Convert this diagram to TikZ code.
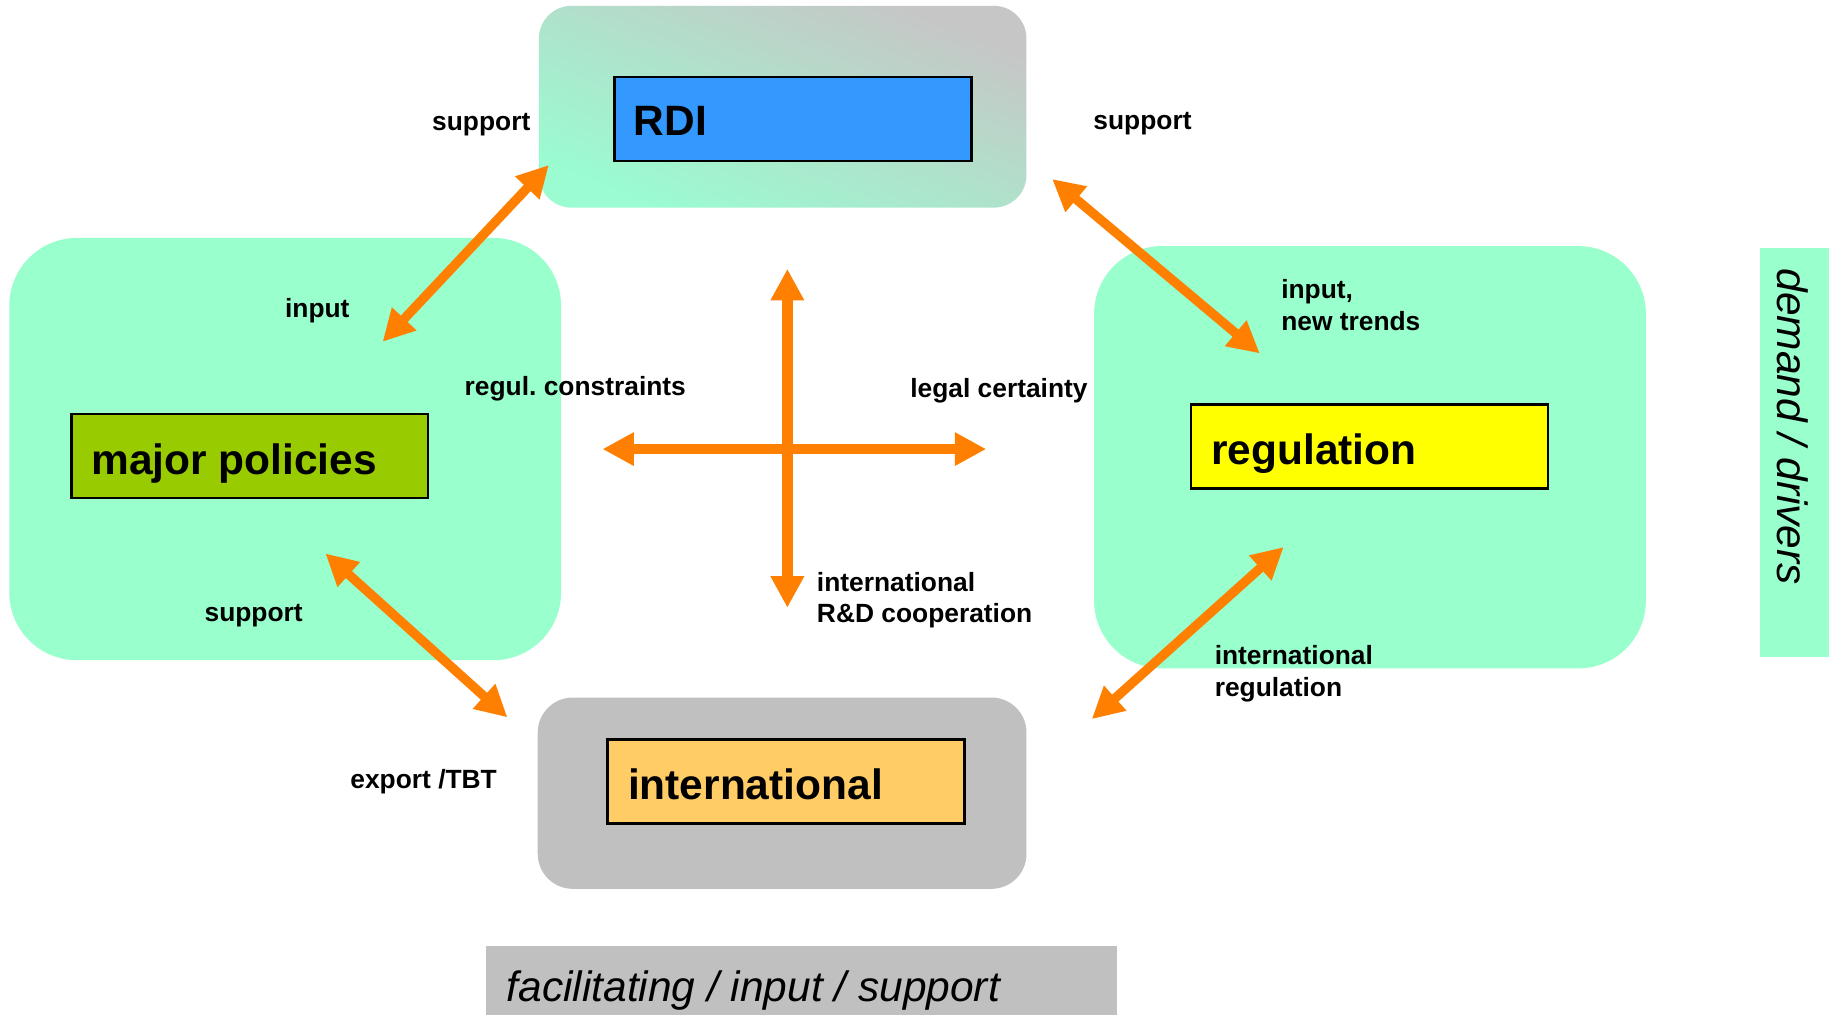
\documentclass[tikz,border=0pt]{standalone}
\usepackage{fontspec}
\setmainfont{Liberation Sans}
\usetikzlibrary{arrows.meta}
\definecolor{mint}{HTML}{99FFCC}
\definecolor{mintg}{HTML}{9AFCD0}
\definecolor{grayg}{HTML}{C6C6C6}
\definecolor{gry}{HTML}{C0C0C0}
\definecolor{rdiblue}{HTML}{3399FF}
\definecolor{polgreen}{HTML}{99CC00}
\definecolor{regyellow}{HTML}{FFFF00}
\definecolor{intorange}{HTML}{FFCC66}
\definecolor{arr}{HTML}{FF8000}
\frenchspacing
\begin{document}
\begin{tikzpicture}[x=0.5pt,y=-0.5pt,
  outerbox/.style={rectangle, inner sep=0pt, draw=none},
  innerbox/.style={rectangle, inner sep=0pt, draw=black, line width=1.2pt, minimum width=153pt, minimum height=36pt},
  bigtext/.style={inner sep=0pt, anchor=base west, font=\fontsize{18.2}{21}\selectfont\bfseries},
  lbl/.style={inner sep=0pt, anchor=base west, align=left, font=\fontsize{11.3}{13.5}\selectfont\bfseries},
  tipshape/.tip={Triangle[length=13.5pt,width=13.5pt]},
  dblarrow/.style={draw=arr, line width=4pt, tipshape-tipshape},
  crossarrow/.style={draw=arr, line width=4.5pt, tipshape-tipshape}]
\clip (0,0) rectangle (1568,870);
\fill[white] (0,0) rectangle (1568,870);
% outer panels
\node[outerbox, rounded corners=14pt, minimum width=209pt, minimum height=86.5pt,
  bottom color=mintg, top color=grayg, shading angle=-22.5] (rdiout) at (671,91.5) {};
\node[outerbox, fill=mint, rounded corners=29pt, minimum width=236.5pt, minimum height=181pt] (polout) at (244.5,385) {};
\node[outerbox, fill=mint, rounded corners=29pt, minimum width=236.5pt, minimum height=181pt] (regout) at (1174.5,392) {};
\node[outerbox, fill=gry, rounded corners=15pt, minimum width=209.5pt, minimum height=82pt] (intout) at (670.5,680) {};
\node[outerbox, fill=mint, minimum width=40pt, minimum height=175pt] (demand) at (1549,388) {};
\node[outerbox, fill=gry, minimum width=270.5pt, minimum height=40pt] (facil) at (687.5,851) {};
% inner boxes
\node[innerbox, fill=rdiblue] (rdi) at (680,102) {};
\node[innerbox, fill=polgreen] (pol) at (214,391) {};
\node[innerbox, fill=regyellow] (reg) at (1174,383) {};
\node[innerbox, fill=intorange] (int) at (674,670) {};
\node[bigtext] (rdit) at (543,116.5) {RDI};
\node[bigtext] (polt) at (78,406.5) {major policies};
\node[bigtext] (regt) at (1038,398.5) {regulation};
\node[bigtext] (intt) at (538,685.5) {international};
\node[inner sep=0pt, anchor=west, rotate=-90, font=\fontsize{18.2}{21}\selectfont\itshape] (demt) at (1537,230) {demand / drivers};
\node[inner sep=0pt, anchor=base west, font=\fontsize{18.2}{21}\selectfont\itshape] (facilt) at (434,859) {facilitating / input / support};
% arrow end points
\coordinate (a1s) at (470.5,141.5);
\coordinate (a1e) at (328,293);
\coordinate (a2s) at (902,153.5);
\coordinate (a2e) at (1080,303);
\coordinate (a3s) at (279,474.5);
\coordinate (a3e) at (435,615);
\coordinate (a4s) at (1100.5,469);
\coordinate (a4e) at (936,616.5);
\coordinate (vt) at (675,230.5);
\coordinate (vb) at (675,521);
\coordinate (hl) at (516.5,385);
\coordinate (hr) at (845.5,385);
\draw[dblarrow] (a1s) -- (a1e);
\draw[dblarrow] (a2s) -- (a2e);
\draw[dblarrow] (a3s) -- (a3e);
\draw[dblarrow] (a4s) -- (a4e);
\draw[crossarrow] (vt) -- (vb);
\draw[crossarrow] (hl) -- (hr);
% labels
\node[lbl, anchor=base east] (l1) at (455,112) {support};
\node[lbl] (l2) at (937,111) {support};
\node[lbl] (l3) at (244,272) {input};
\node[lbl] (l4) at (1098,283) {input,\\new trends};
\node[lbl] (l5) at (398,339) {regul. constraints};
\node[lbl] (l6) at (780,341) {legal certainty};
\node[lbl] (l7) at (700,534) {international\\R\&D cooperation};
\node[lbl] (l8) at (175,533) {support};
\node[lbl] (l9) at (1041,597) {international\\regulation};
\node[lbl] (l10) at (300,676) {export /TBT};
\end{tikzpicture}
\end{document}
